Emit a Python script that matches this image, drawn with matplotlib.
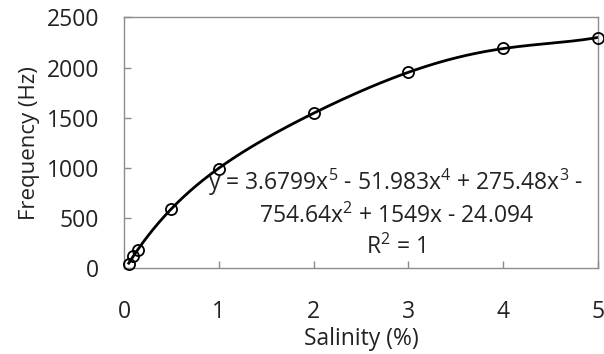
import numpy as np
import matplotlib
matplotlib.use('Agg')
import matplotlib.pyplot as plt

salinity = [0.05, 0.1, 0.15, 0.5, 1, 2, 3, 4, 5]
frequency = [45, 122, 185, 592, 985, 1550, 1955, 2190, 2298]

# 5th order trendline, coefficients as printed on the chart
trend_coef = [3.6799, -51.983, 275.48, -754.64, 1549, -24.094]
r_squared = 1

xticks = [0, 1, 2, 3, 4, 5]
yticks = [0, 500, 1000, 1500, 2000, 2500]

plt.rcParams['font.family'] = ['Open Sans', 'DejaVu Sans']
plt.rcParams['mathtext.fontset'] = 'custom'
plt.rcParams['mathtext.rm'] = 'Open Sans'
plt.rcParams['mathtext.default'] = 'regular'

fig = plt.figure(figsize=(6.04, 3.54), dpi=100)
ax = fig.add_axes([0.2053, 0.242, 0.7847, 0.709])

xfit = np.linspace(min(salinity), max(salinity), 300)
ax.plot(xfit, np.polyval(trend_coef, xfit), color='black', lw=2.0, zorder=2)
ax.plot(salinity, frequency, ls='none', marker='o', ms=8, mfc='none',
        mec='black', mew=1.3, zorder=3, clip_on=False)

ax.set_xlim(0, 5)
ax.set_ylim(0, 2500)
ax.set_xticks(xticks)
ax.set_yticks(yticks)

grey = '#8c8c8c'
for s in ax.spines.values():
    s.set_color(grey)
    s.set_linewidth(1.0)
ax.tick_params(direction='in', length=5, width=1.0, color=grey,
               labelsize=16.5, labelcolor='#222222')
ax.tick_params(axis='x', pad=23)
ax.tick_params(axis='y', pad=18)

ax.set_xlabel('Salinity (%)', fontsize=16.5, color='#222222', labelpad=2)
ax.set_ylabel('Frequency (Hz)', fontsize=16, color='#222222', labelpad=5)

c = trend_coef
eq = ('y = %gx$^{5}$ - %gx$^{4}$ + %gx$^{3}$ -\n%gx$^{2}$ + %gx - %g\nR$^{2}$ = %d'
      % (c[0], -c[1], c[2], -c[3], c[4], -c[5], r_squared))
ax.text(2.87, 1010, eq, ha='center', va='top', fontsize=16.5, color='#222222',
        linespacing=1.3)

fig.savefig('out.png', dpi=100)
